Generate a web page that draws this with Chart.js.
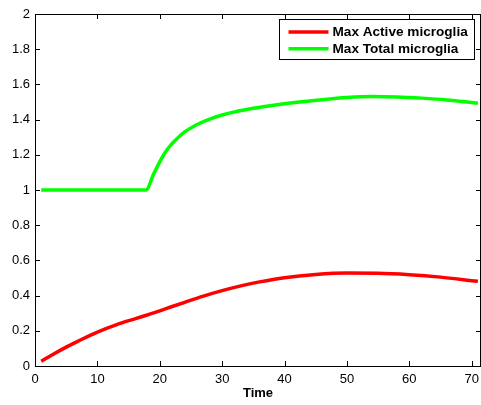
<!DOCTYPE html>
<html lang="en">
<head>
    <meta charset="UTF-8">
    <title>Max microglia</title>
    <script src="https://cdn.jsdelivr.net/npm/chart.js"></script>
    <style>
        html, body { margin: 0; padding: 0; background: #fff; }
        #wrap { width: 481px; height: 405px; }
    </style>
</head>
<body>
    <div id="wrap"><canvas id="myChart" width="481" height="405"></canvas></div>

<script>
    // valores
    const activeX = [1, 3, 5, 7, 10, 13, 16, 18, 20, 22, 24, 27, 30, 33, 36, 40, 45, 50, 55, 60, 65, 70, 71];
    const activeY = [0.027, 0.068, 0.107, 0.143, 0.193, 0.234, 0.268, 0.29, 0.313, 0.338, 0.362, 0.397, 0.428, 0.455, 0.478, 0.502, 0.52, 0.528, 0.527, 0.519, 0.505, 0.485, 0.481];

    const totalX = [1, 5, 10, 15, 17.8, 19, 20, 21, 22, 23, 24, 26, 28, 30, 32, 35, 38, 42, 46, 50, 54, 58, 62, 66, 70, 71];
    const totalY = [1, 1, 1, 1, 1, 1.09, 1.16, 1.22, 1.265, 1.30, 1.33, 1.372, 1.403, 1.426, 1.444, 1.464, 1.48, 1.498, 1.513, 1.525, 1.531, 1.529, 1.522, 1.512, 1.497, 1.493];

    const seriesNames = ['Max Active microglia', 'Max Total microglia'];
    const xTicks = [0, 10, 20, 30, 40, 50, 60, 70];
    const yTicks = [0, 0.2, 0.4, 0.6, 0.8, 1, 1.2, 1.4, 1.6, 1.8, 2];

    function pares(xs, ys) {
        return xs.map(function (x, i) { return { x: x, y: ys[i] }; });
    }

    // moldura + ticks para dentro (estilo matlab) + legenda
    const matlabBox = {
        id: 'matlabBox',
        afterDraw(chart) {
            const ctx = chart.ctx;
            const a = chart.chartArea;
            const sx = chart.scales.x, sy = chart.scales.y;
            const tl = 5;
            ctx.save();
            ctx.strokeStyle = '#000';
            ctx.lineWidth = 1;
            ctx.beginPath();
            xTicks.forEach(function (v) {
                const px = Math.round(sx.getPixelForValue(v)) + 0.5;
                ctx.moveTo(px, a.bottom); ctx.lineTo(px, a.bottom - tl);
                ctx.moveTo(px, a.top); ctx.lineTo(px, a.top + tl);
            });
            yTicks.forEach(function (v) {
                const py = Math.round(sy.getPixelForValue(v)) + 0.5;
                ctx.moveTo(a.left, py); ctx.lineTo(a.left + tl, py);
                ctx.moveTo(a.right, py); ctx.lineTo(a.right - tl, py);
            });
            ctx.stroke();
            ctx.strokeRect(Math.round(a.left) + 0.5, Math.round(a.top) + 0.5,
                Math.round(a.right - a.left) - 1, Math.round(a.bottom - a.top));

            // legenda
            ctx.font = 'bold 13.6px "Liberation Sans", Arial, sans-serif';
            let w = 0;
            chart.data.datasets.forEach(function (d) { w = Math.max(w, ctx.measureText(d.label).width); });
            const bw = Math.round(w + 60), bh = 40;
            const bx = Math.round(a.right - 7 - bw) + 0.5, by = Math.round(a.top + 5) + 0.5;
            ctx.fillStyle = '#fff';
            ctx.fillRect(bx, by, bw, bh);
            ctx.strokeRect(bx, by, bw, bh);
            ctx.textBaseline = 'middle';
            chart.data.datasets.forEach(function (d, i) {
                const cy = by + 12.5 + i * 16.7;
                ctx.strokeStyle = d.borderColor;
                ctx.lineWidth = 3.5;
                ctx.beginPath();
                ctx.moveTo(bx + 9, cy); ctx.lineTo(bx + 49, cy);
                ctx.stroke();
                ctx.fillStyle = '#000';
                ctx.fillText(d.label, bx + 53, cy + 0.5);
            });
            ctx.restore();
        }
    };

    const config = {
        type: 'line',
        data: {
            datasets: [{
                label: seriesNames[0],
                data: pares(activeX, activeY),
                borderColor: '#ff0000',
                borderWidth: 3.5,
                pointRadius: 0,
                cubicInterpolationMode: 'monotone',
                fill: false
            },
            {
                label: seriesNames[1],
                data: pares(totalX, totalY),
                borderColor: '#00ff00',
                borderWidth: 3.5,
                pointRadius: 0,
                cubicInterpolationMode: 'monotone',
                fill: false
            }]
        },
        options: {
            responsive: false,
            animation: false,
            layout: { padding: { top: 14, right: 0, left: 0, bottom: 0 } },
            plugins: {
                legend: { display: false },
                tooltip: { enabled: false }
            },
            scales: {
                x: {
                    type: 'linear',
                    min: 0,
                    max: 71.5,
                    afterBuildTicks: function (s) { s.ticks = xTicks.map(function (v) { return { value: v }; }); },
                    afterFit: function (s) { s.height = 39; s.paddingLeft = 0; s.paddingRight = 0; },
                    grid: { display: false, drawTicks: false },
                    border: { display: false },
                    ticks: {
                        color: '#000',
                        padding: 6,
                        maxRotation: 0,
                        font: { family: '"Liberation Sans", Arial, sans-serif', size: 13 },
                        callback: function (v) { return String(v); }
                    },
                    title: {
                        display: true,
                        text: 'Time',
                        color: '#000',
                        padding: { top: 0, bottom: 4 },
                        font: { family: '"Liberation Sans", Arial, sans-serif', size: 13, weight: 'bold' }
                    }
                },
                y: {
                    min: 0,
                    max: 2,
                    afterBuildTicks: function (s) { s.ticks = yTicks.map(function (v) { return { value: v }; }); },
                    afterFit: function (s) { s.width = 35; s.paddingTop = 0; s.paddingBottom = 0; },
                    grid: { display: false, drawTicks: false },
                    border: { display: false },
                    ticks: {
                        color: '#000',
                        padding: 5,
                        font: { family: '"Liberation Sans", Arial, sans-serif', size: 13 },
                        callback: function (v) { return String(Number(v.toFixed(1))); }
                    }
                }
            }
        },
        plugins: [matlabBox]
    };

    const myChart = new Chart(document.getElementById('myChart'), config);
</script>
</body>
</html>
